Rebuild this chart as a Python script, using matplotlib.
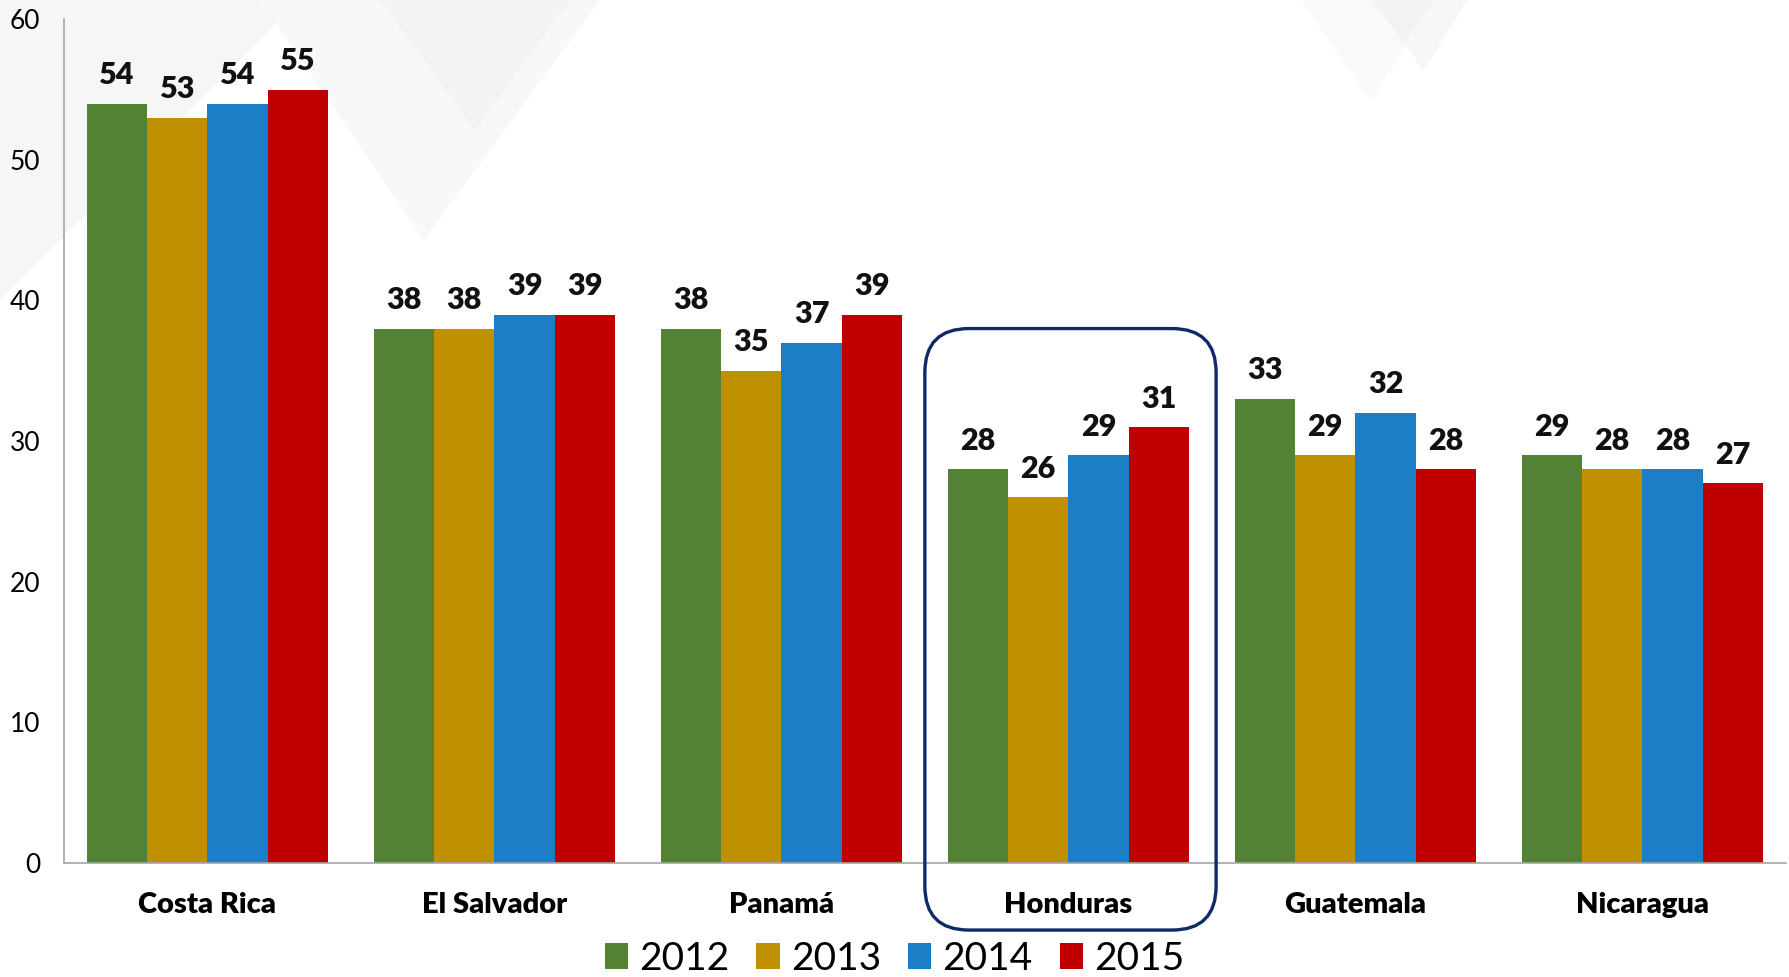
import matplotlib
matplotlib.use("Agg")
import matplotlib.pyplot as plt
import numpy as np
from matplotlib.patches import FancyBboxPatch, Polygon
from matplotlib.transforms import IdentityTransform

# ---- data ----
countries = ["Costa Rica", "El Salvador", "Panamá", "Honduras", "Guatemala", "Nicaragua"]
years = ["2012", "2013", "2014", "2015"]
v2012 = [54, 38, 38, 28, 33, 29]
v2013 = [53, 38, 35, 26, 29, 28]
v2014 = [54, 39, 37, 29, 32, 28]
v2015 = [55, 39, 39, 31, 28, 27]
series = [v2012, v2013, v2014, v2015]
colors = ["#548235", "#BF9000", "#1C7EC6", "#C00000"]
yticks = [0, 10, 20, 30, 40, 50, 60]
highlight = "Honduras"

plt.rcParams['font.family'] = ['Lato', 'DejaVu Sans']

W, H = 1789, 977
fig = plt.figure(figsize=(W / 100, H / 100), dpi=100)
fig.patch.set_facecolor("white")

# faint watermark shapes in the background (pixel coords from top-left)
def fpoly(pts, color):
    p = Polygon([(x / W, 1 - y / H) for x, y in pts], closed=True,
                transform=fig.transFigure, facecolor=color, edgecolor="none", zorder=0)
    fig.add_artist(p)

fpoly([(0, 0), (300, 0), (0, 300)], "#f6f6f6")
fpoly([(260, 0), (600, 0), (424, 240)], "#f8f8f8")
fpoly([(380, 0), (570, 0), (475, 130)], "#f3f3f3")
fpoly([(1301, 0), (1434, 0), (1371, 101)], "#f9f9f9")
fpoly([(1373, 0), (1467, 0), (1424, 71)], "#f7f7f7")
fpoly([(1373, 0), (1434, 0), (1404, 42)], "#f2f2f2")

ax = fig.add_axes([64 / W, 1 - 862.6 / H, (1785.7 - 64) / W, (862.6 - 19.4) / H])
ax.set_facecolor("none")

n = len(years)
bw = 0.841 / n
x = np.arange(len(countries))
for i, (vals, c, yr) in enumerate(zip(series, colors, years)):
    pos = x + (i - (n - 1) / 2) * bw
    ax.bar(pos, vals, width=bw, color=c, label=yr, zorder=2)
    for xi, v in zip(pos, vals):
        ax.annotate(f"{v}", (xi, v), xytext=(0, 14), textcoords="offset points",
                    ha="center", va="baseline", fontsize=22, fontweight="heavy",
                    color="#111111")

ax.set_xlim(-0.5, len(countries) - 0.5)
ax.set_ylim(0, 60)
ax.set_yticks(yticks)
ax.set_xticks(x)
ax.set_xticklabels(countries, fontsize=21, fontweight="heavy")
ax.tick_params(axis="x", length=0, pad=21.5)
ax.tick_params(axis="y", length=0, pad=17, labelsize=19)
for s in ["top", "right"]:
    ax.spines[s].set_visible(False)
for s in ["left", "bottom"]:
    ax.spines[s].set_color("#A6A6A6")
    ax.spines[s].set_linewidth(1.2)

# highlight box around Honduras
hi = countries.index(highlight)
(x0, y0) = ax.transData.transform((hi - 0.5, -4.8))
(x1, y1) = ax.transData.transform((hi + 0.515, 38.0))
box = FancyBboxPatch((x0, y0), x1 - x0, y1 - y0,
                     boxstyle="round,pad=0,rounding_size=44",
                     transform=IdentityTransform(), facecolor="none",
                     edgecolor="#0F2A66", linewidth=2.4, zorder=5)
fig.add_artist(box)

fig.legend(loc="lower center", bbox_to_anchor=(0.5, 0.0), ncol=4, frameon=False,
           fontsize=28, handlelength=0.6, handleheight=0.66,
           handletextpad=0.28, columnspacing=0.7, borderaxespad=0, borderpad=0)

fig.savefig("out.png", dpi=100, facecolor="white")
